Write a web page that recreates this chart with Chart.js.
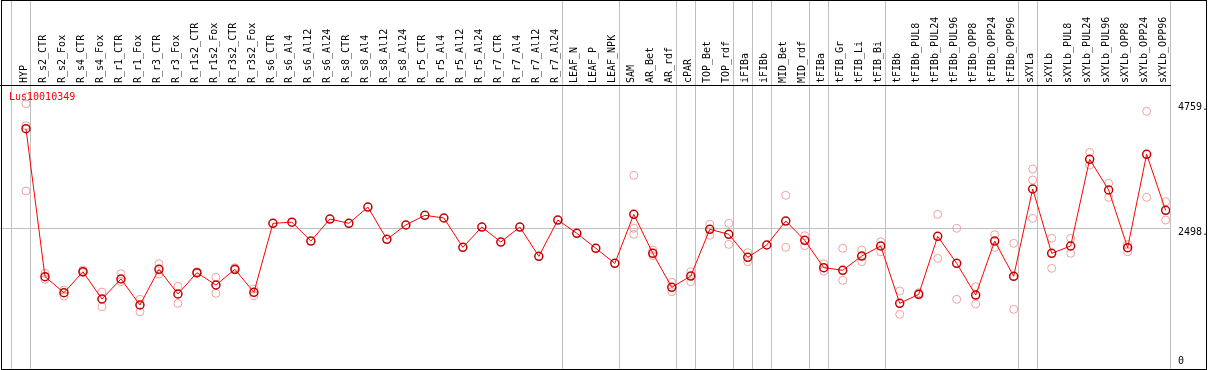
<!DOCTYPE html>
<html>
<head>
<meta charset="utf-8">
<script src="https://cdn.jsdelivr.net/npm/chart.js@4"></script>
<style>
  body { margin: 0; background: #fff; }
  #wrap { width: 1209px; height: 370px; }
</style>
</head>
<body>
<div id="wrap"><canvas id="geneChart"></canvas></div>
<script>
const geneName = 'Lus10010349';

const categories = ['HYP', 'R_s2_CTR', 'R_s2_Fox', 'R_s4_CTR', 'R_s4_Fox', 'R_r1_CTR', 'R_r1_Fox',
    'R_r3_CTR', 'R_r3_Fox', 'R_r1s2_CTR', 'R_r1s2_Fox', 'R_r3s2_CTR', 'R_r3s2_Fox',
    'R_s6_CTR', 'R_s6_Al4', 'R_s6_Al12', 'R_s6_Al24', 'R_s8_CTR', 'R_s8_Al4', 'R_s8_Al12', 'R_s8_Al24',
    'R_r5_CTR', 'R_r5_Al4', 'R_r5_Al12', 'R_r5_Al24', 'R_r7_CTR', 'R_r7_Al4', 'R_r7_Al12', 'R_r7_Al24',
    'LEAF_N', 'LEAF_P', 'LEAF_NPK', 'SAM', 'AR_Bet', 'AR_rdf', 'cPAR', 'TOP_Bet', 'TOP_rdf',
    'iFIBa', 'iFIBb', 'MID_Bet', 'MID_rdf', 'tFIBa', 'tFIB_Gr', 'tFIB_Li', 'tFIB_Bi',
    'tFIBb', 'tFIBb_PUL8', 'tFIBb_PUL24', 'tFIBb_PUL96', 'tFIBb_OPP8', 'tFIBb_OPP24', 'tFIBb_OPP96',
    'sXYLa', 'sXYLb', 'sXYLb_PUL8', 'sXYLb_PUL24', 'sXYLb_PUL96', 'sXYLb_OPP8', 'sXYLb_OPP24', 'sXYLb_OPP96'];

const meanValues = [4306, 1621, 1330, 1711, 1216, 1579, 1107, 1754, 1307, 1693, 1470, 1754, 1337,
    2589, 2610, 2268, 2667, 2589, 2885, 2299, 2559, 2734, 2686, 2154, 2522, 2250, 2522, 1990, 2649,
    2408, 2136, 1863, 2752, 2045, 1428, 1633, 2481, 2390, 1972, 2196, 2631, 2281, 1784, 1737, 1996, 2178,
    1137, 1301, 2353, 1863, 1288, 2268, 1628, 3212, 2045, 2178, 3751, 3194, 2147, 3842, 2825];

// replicate measurements (null = none shown)
const rep1 = [4880, 1682, 1379, 1742, 1343, 1675, 1210, 1857, 1446, 1710, 1609, 1785, 1397,
    null, null, null, null, null, null, null, null, null, null, null, null, null, null, null, null,
    null, null, null, 3460, 2105, 1519, 1711, 2571, 2589, 2057, null, 3097, 2365, 1857, 2136, 2105, 2256,
    1361, 1330, 2752, 2499, 1439, 2383, 2226, 3575, 2317, 2317, 3878, 3315, 2208, 4622, 2981];
const rep2 = [4759, 1573, 1270, 1694, 1076, 1530, 985, 1669, 1137, 1680, 1319, 1742, 1276,
    null, null, null, null, null, null, null, null, null, null, null, null, null, null, null, null,
    null, null, null, 2499, 2002, 1348, 1530, 2372, 2208, 1893, null, 2154, 2183, 1724, 1555, 1893, 2074,
    938, 1290, 1954, 1210, 1125, 2154, 1029, 3375, 1773, 2045, 3647, 3061, 2074, 3061, 2649];
const rep3 = [4361, null, null, null, null, null, null, null, null, null, null, null, null,
    null, null, null, null, null, null, null, null, null, null, null, null, null, null, null, null,
    null, null, null, 2390, null, null, null, null, null, null, null, null, null, null, null, null, null,
    null, null, null, null, null, null, null, 2680, null, null, null, null, null, null, null];
const rep4 = [3176];

const yTicks = [0, 2498, 4759];
// group boundaries sit just right of these category indexes
const groupEnds = [-1, 0, 28, 31, 34, 35, 37, 38, 39, 41, 42, 45, 52, 53, 60];

const sepOffset = 0.23;
const xMin = -1.368;
const xMax = 60 + sepOffset;

function toPoints(values) {
    return values.map((v, i) => ({ x: i, y: v })).filter(p => p.y !== null);
}

const separators = groupEnds.map(g => g + sepOffset);
function isSeparator(v) {
    return separators.some(s => Math.abs(s - v) < 1e-6);
}

function noPadding(scale) {
    scale.paddingLeft = 0;
    scale.paddingRight = 0;
    scale.paddingTop = 0;
    scale.paddingBottom = 0;
}

const framePlugin = {
    id: 'frame',
    afterDraw(chart) {
        const ctx = chart.ctx;
        ctx.save();
        ctx.strokeStyle = '#000';
        ctx.lineWidth = 1;
        ctx.strokeRect(1.5, 0.5, 1205, 369);
        ctx.fillStyle = '#ff0000';
        ctx.font = '10px "DejaVu Sans Mono"';
        ctx.textBaseline = 'middle';
        ctx.textAlign = 'left';
        ctx.fillText(geneName, 9, 97);
        ctx.restore();
    }
};

const replicateStyle = {
    type: 'scatter',
    showLine: false,
    pointRadius: 4,
    pointBorderWidth: 1,
    pointBorderColor: '#f0a0a0',
    pointBackgroundColor: 'rgba(0,0,0,0)'
};

new Chart(document.getElementById('geneChart'), {
    type: 'line',
    data: {
        datasets: [
            {
                label: 'mean',
                data: toPoints(meanValues),
                borderColor: '#ff0000',
                borderWidth: 1,
                pointRadius: 4,
                pointBorderWidth: 1.5,
                pointBorderColor: '#c00000',
                pointBackgroundColor: 'rgba(0,0,0,0)',
                tension: 0
            },
            Object.assign({ label: 'rep1', data: toPoints(rep1) }, replicateStyle),
            Object.assign({ label: 'rep2', data: toPoints(rep2) }, replicateStyle),
            Object.assign({ label: 'rep3', data: toPoints(rep3) }, replicateStyle),
            Object.assign({ label: 'rep4', data: toPoints(rep4) }, replicateStyle)
        ]
    },
    options: {
        responsive: true,
        maintainAspectRatio: false,
        animation: false,
        layout: { autoPadding: false, padding: { left: 0, right: 0, top: 0, bottom: 1 } },
        plugins: {
            legend: { display: false },
            tooltip: { enabled: false }
        },
        scales: {
            x: {
                type: 'linear',
                position: 'top',
                min: xMin,
                max: xMax,
                afterBuildTicks: function(scale) {
                    const vals = categories.map((c, i) => i).concat(separators);
                    vals.sort((a, b) => a - b);
                    scale.ticks = vals.map(v => ({ value: v }));
                },
                afterFit: function(scale) {
                    scale.height = 85;
                    noPadding(scale);
                },
                ticks: {
                    autoSkip: false,
                    minRotation: 90,
                    maxRotation: 90,
                    padding: -83,
                    labelOffset: 10,
                    color: '#000',
                    font: { family: 'DejaVu Sans Mono', size: 10 },
                    callback: function(value) {
                        return Number.isInteger(value) ? categories[value] : '';
                    }
                },
                grid: {
                    drawOnChartArea: true,
                    drawTicks: true,
                    tickLength: 85,
                    lineWidth: 1,
                    color: function(ctx) {
                        return ctx.tick && isSeparator(ctx.tick.value) ? '#c0c0c0' : 'rgba(0,0,0,0)';
                    }
                },
                border: { display: true, color: '#000', width: 1 }
            },
            y: {
                type: 'linear',
                position: 'right',
                min: -54,
                max: 5099,
                afterBuildTicks: function(scale) {
                    scale.ticks = yTicks.map(v => ({ value: v }));
                },
                afterFit: function(scale) {
                    scale.width = 39;
                    noPadding(scale);
                },
                ticks: {
                    padding: 8,
                    labelOffset: 4,
                    color: '#000',
                    font: { family: 'DejaVu Sans Mono', size: 10, lineHeight: 1.8 },
                    callback: function(value) {
                        return value === 0 ? ['0', ''] : value + '.';
                    }
                },
                grid: {
                    drawTicks: false,
                    color: function(ctx) {
                        return ctx.tick && ctx.tick.value === 2498 ? '#c0c0c0' : 'rgba(0,0,0,0)';
                    }
                },
                border: { display: false }
            }
        }
    },
    plugins: [framePlugin]
});
</script>
</body>
</html>
